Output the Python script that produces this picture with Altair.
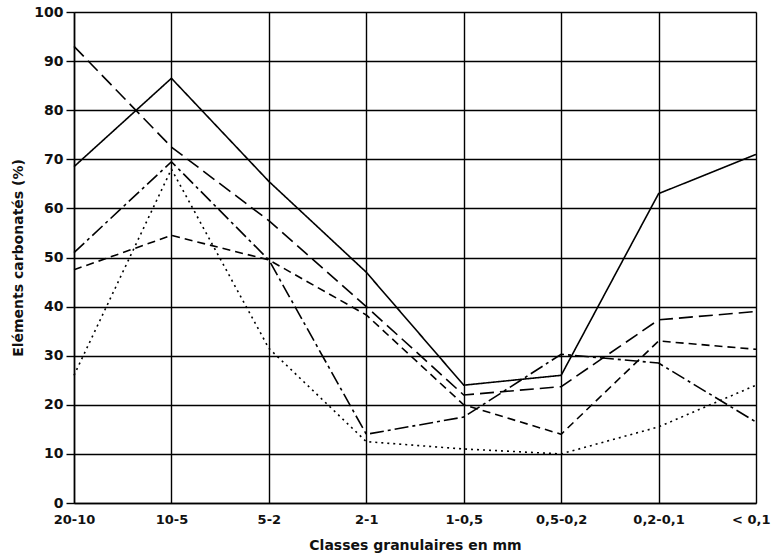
import altair as alt
import pandas as pd

classes = ["20-10", "10-5", "5-2", "2-1", "1-0,5", "0,5-0,2", "0,2-0,1", "< 0,1"]
serie_a = [68.5, 86.5, 65.5, 47.0, 24.0, 26.0, 63.0, 71.0]   # trait plein
serie_b = [93.0, 72.5, 57.5, 40.0, 22.0, 23.7, 37.3, 39.0]   # tirets longs
serie_c = [51.0, 69.5, 49.5, 14.0, 17.5, 30.3, 28.5, 16.5]   # tiret-point
serie_d = [47.5, 54.5, 49.5, 38.3, 20.0, 14.0, 33.0, 31.3]   # tirets
serie_e = [26.0, 68.0, 31.5, 12.5, 11.0, 10.0, 15.5, 24.0]   # pointillé

series = {"A": serie_a, "B": serie_b, "C": serie_c, "D": serie_d, "E": serie_e}
rows = []
for name, vals in series.items():
    for c, v in zip(classes, vals):
        rows.append({"classe": c, "valeur": v, "serie": name})
df = pd.DataFrame(rows)

font = "DejaVu Sans"
last_test = "datum.value == '< 0,1'"

chart = alt.Chart(df).mark_line(color="black", strokeWidth=1.6).encode(
    x=alt.X("classe:N", sort=classes,
            scale=alt.Scale(type="point", padding=0),
            axis=alt.Axis(title="Classes granulaires  en mm", labelAngle=0,
                          labelAlign={"condition": {"test": last_test, "value": "right"}, "value": "center"},
                          labelOffset={"condition": {"test": last_test, "value": 14}, "value": 0},
                          grid=True, gridColor="black", gridWidth=1.4, gridOpacity=1,
                          domainColor="black", domainWidth=1.5, tickColor="black",
                          ticks=False, labelPadding=10, titlePadding=12,
                          labelFont=font, titleFont=font, labelFontSize=13,
                          titleFontSize=14, labelFontWeight="bold", titleFontWeight="bold",
                          labelColor="#111", titleColor="#111")),
    y=alt.Y("valeur:Q", scale=alt.Scale(domain=[0, 100]),
            axis=alt.Axis(title="Eléments carbonatés  (%)", values=list(range(0, 101, 10)),
                          grid=True, gridColor="black", gridWidth=1.4, gridOpacity=1,
                          domainColor="black", domainWidth=1.5, tickColor="black",
                          tickSize=8, tickWidth=1.4, labelPadding=3, titlePadding=8,
                          labelFont=font, titleFont=font, labelFontSize=14,
                          titleFontSize=14, labelFontWeight="bold", titleFontWeight="bold",
                          labelColor="#111", titleColor="#111")),
    strokeDash=alt.StrokeDash("serie:N",
                              scale=alt.Scale(domain=["A", "B", "C", "D", "E"],
                                              range=[[1, 0], [14, 6], [14, 4, 3, 4], [8, 5], [2, 4]]),
                              legend=None),
    detail="serie:N",
).properties(
    width=682, height=491,
    autosize=alt.AutoSizeParams(type="none"),
    padding={"left": 74, "top": 12, "right": 15, "bottom": 57},
).configure_view(stroke="black", strokeWidth=1.4).configure(background="white")

chart.save("out.html", embed_options={"renderer": "svg", "actions": False})
